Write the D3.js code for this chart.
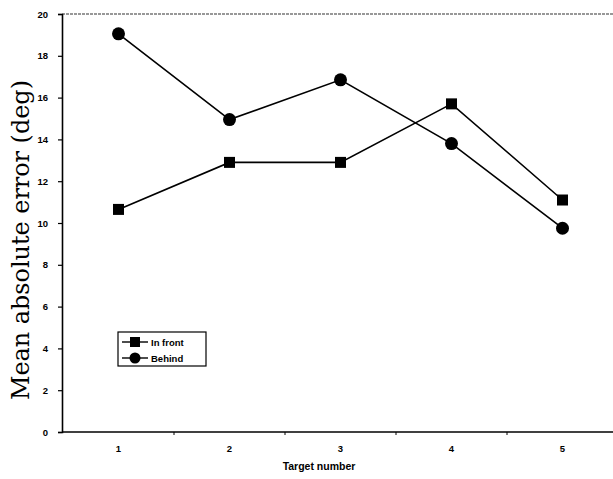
<!DOCTYPE html>
<html lang="en">
<head>
<meta charset="UTF-8">
<title>Mean absolute error</title>
<script src="https://d3js.org/d3.v7.min.js"></script>
<style>
    body { margin: 0; background: #fff; }
    svg { display: block; }
    .tick-label { font-family: "Liberation Sans", Arial, sans-serif; font-weight: bold; font-size: 9.5px; }
</style>
</head>
<body>
<div class="container"></div>
<script>
    // data
    const targets = [1, 2, 3, 4, 5];
    const inFront = [10.65, 12.9, 12.9, 15.7, 11.1];
    const behind = [19.05, 14.95, 16.85, 13.8, 9.75];
    const yTicks = [0, 2, 4, 6, 8, 10, 12, 14, 16, 18, 20];

    const W = 613, H = 479;
    const svg = d3.select(".container").append("svg")
        .attr("width", W).attr("height", H);

    const x = d3.scaleBand().domain(targets).range([63, 618]).padding(0);
    const y = d3.scaleLinear().domain([0, 20]).range([432, 14]);
    const cx = d => x(d) + x.bandwidth() / 2;

    // top dotted frame line
    svg.append("line")
        .attr("x1", 62).attr("x2", 613).attr("y1", y(20)).attr("y2", y(20))
        .attr("stroke", "#333").attr("stroke-width", 1.2).attr("stroke-dasharray", "3,1");

    // y axis
    const yAxis = d3.axisLeft(y).tickValues(yTicks).tickSize(4).tickPadding(10).tickFormat(d3.format("d"));
    const gy = svg.append("g").attr("transform", "translate(62,0)").call(yAxis);
    gy.select(".domain").attr("stroke", "#000").attr("stroke-width", 1.6);
    gy.selectAll(".tick line").attr("stroke", "#000").attr("stroke-width", 1.2);
    gy.selectAll(".tick text").attr("class", "tick-label").attr("fill", "#000");

    // x axis
    svg.append("line")
        .attr("x1", 62).attr("x2", 613).attr("y1", 432).attr("y2", 432)
        .attr("stroke", "#000").attr("stroke-width", 1.6);
    svg.append("g").selectAll("line")
        .data(targets.slice(1))
        .join("line")
        .attr("x1", d => x(d)).attr("x2", d => x(d))
        .attr("y1", 432).attr("y2", 435)
        .attr("stroke", "#000").attr("stroke-width", 1);
    svg.append("g").selectAll("text")
        .data(targets)
        .join("text")
        .attr("class", "tick-label")
        .attr("x", cx).attr("y", 452)
        .attr("text-anchor", "middle")
        .text(d => d);

    svg.append("text")
        .attr("x", 319).attr("y", 470)
        .attr("text-anchor", "middle")
        .style("font-family", "Liberation Sans, Arial, sans-serif")
        .style("font-weight", "bold").style("font-size", "10.5px")
        .text("Target number");

    const ylab = svg.append("text")
        .attr("transform", "translate(29,240) rotate(-90)")
        .attr("text-anchor", "middle")
        .style("font-family", "DejaVu Serif, serif")
        .style("font-size", "24px")
        .text("Mean absolute error (deg)");
    // scale font so the label spans about the same height as the scan
    const len = ylab.node().getComputedTextLength();
    ylab.style("font-size", (24 * 320 / len) + "px");

    // series
    const line = d3.line().x((d, i) => cx(targets[i])).y(d => y(d));
    svg.append("path").datum(inFront).attr("d", line)
        .attr("fill", "none").attr("stroke", "#000").attr("stroke-width", 1.6);
    svg.append("path").datum(behind).attr("d", line)
        .attr("fill", "none").attr("stroke", "#000").attr("stroke-width", 1.6);

    svg.append("g").selectAll("rect")
        .data(inFront)
        .join("rect")
        .attr("x", (d, i) => cx(targets[i]) - 5.5)
        .attr("y", d => y(d) - 5.5)
        .attr("width", 11).attr("height", 11)
        .attr("fill", "#000");
    svg.append("g").selectAll("circle")
        .data(behind)
        .join("circle")
        .attr("cx", (d, i) => cx(targets[i]))
        .attr("cy", d => y(d))
        .attr("r", 6.5)
        .attr("fill", "#000");

    // legend
    const lg = svg.append("g").attr("transform", "translate(118,332)");
    lg.append("rect").attr("width", 88).attr("height", 34)
        .attr("fill", "#fff").attr("stroke", "#000").attr("stroke-width", 1.2);
    const items = [{ label: "In front", shape: "square" }, { label: "Behind", shape: "circle" }];
    items.forEach((it, i) => {
        const yy = 10 + i * 16;
        lg.append("line").attr("x1", 4).attr("x2", 30).attr("y1", yy).attr("y2", yy)
            .attr("stroke", "#000").attr("stroke-width", 1.4);
        if (it.shape === "square") {
            lg.append("rect").attr("x", 12).attr("y", yy - 5).attr("width", 10).attr("height", 10).attr("fill", "#000");
        } else {
            lg.append("circle").attr("cx", 17).attr("cy", yy).attr("r", 5.5).attr("fill", "#000");
        }
        lg.append("text").attr("x", 33).attr("y", yy + 3.5)
            .attr("class", "tick-label")
            .text(it.label);
    });
</script>
</body>
</html>
